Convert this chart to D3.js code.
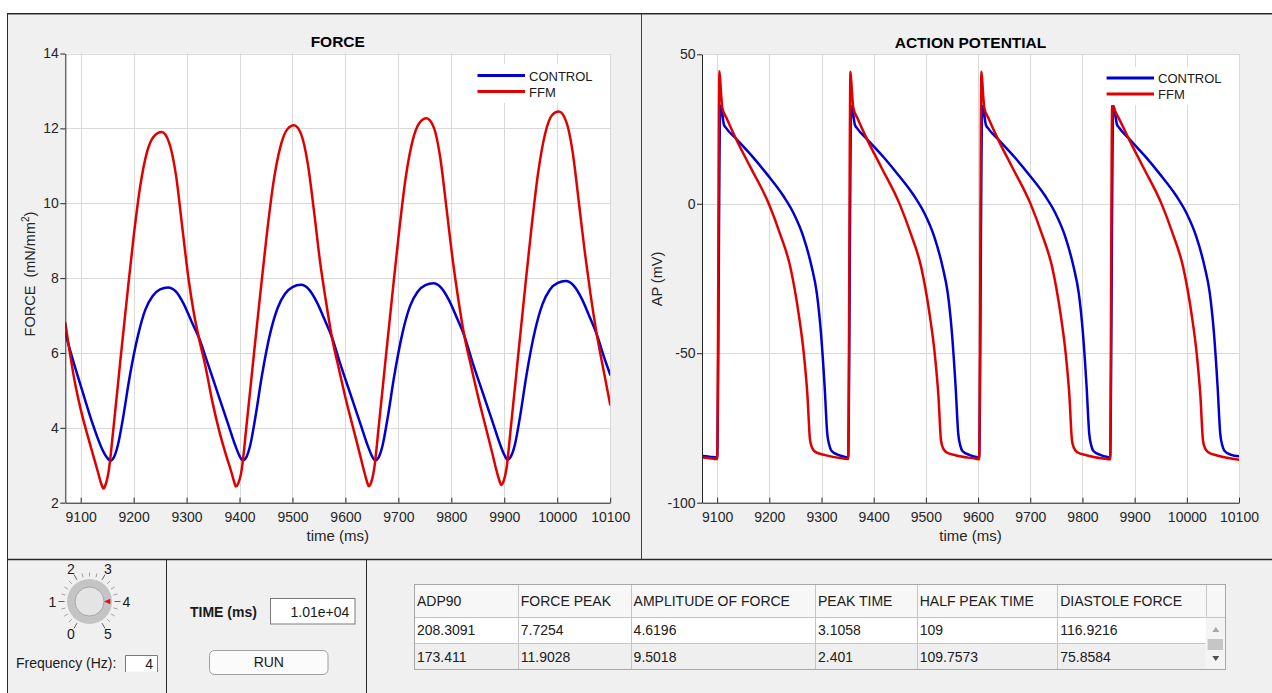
<!DOCTYPE html>
<html><head><meta charset="utf-8">
<script src="https://cdn.jsdelivr.net/npm/d3@7"></script>
<style>
html,body{margin:0;padding:0;background:#fff;}
svg{display:block;}
</style></head><body>
<svg id="app" width="1272" height="693"></svg>
<script>
// ---------------- DATA ----------------
const timeDomain = [9071, 10100];
const timeTicks = [9100, 9200, 9300, 9400, 9500, 9600, 9700, 9800, 9900, 10000, 10100];
const forceTicks = [2, 4, 6, 8, 10, 12, 14];
const apTicks = [-100, -50, 0, 50];
const seriesNames = ["CONTROL", "FFM"];
const seriesColors = ["#0000d2", "#e00000"];

// FORCE (mN/mm2) vs time (ms)
const forceControl = [[9071,6.52],[9086,5.78],[9105,4.90],[9124,4.05],[9140,3.45],[9149,3.22],[9156,3.12],[9163,3.22],[9170,3.52],[9180,4.26],[9192,5.32],[9208,6.45],[9222,7.15],[9236,7.52],[9250,7.70],[9265,7.75],[9280,7.64],[9295,7.30],[9310,6.82],[9323,6.42],[9340,5.72],[9359,4.92],[9378,4.12],[9393,3.49],[9400,3.25],[9406,3.13],[9413,3.22],[9420,3.52],[9430,4.29],[9442,5.37],[9458,6.53],[9472,7.20],[9486,7.58],[9500,7.76],[9516,7.82],[9531,7.70],[9546,7.36],[9561,6.88],[9574,6.44],[9590,5.72],[9609,4.92],[9628,4.12],[9643,3.49],[9650,3.25],[9656,3.13],[9663,3.22],[9670,3.52],[9680,4.29],[9692,5.37],[9708,6.55],[9722,7.25],[9736,7.63],[9751,7.81],[9766,7.86],[9781,7.74],[9796,7.40],[9811,6.92],[9824,6.48],[9840,5.75],[9859,4.95],[9878,4.15],[9893,3.52],[9900,3.28],[9906,3.15],[9913,3.25],[9920,3.55],[9930,4.32],[9942,5.42],[9958,6.60],[9972,7.30],[9986,7.69],[10001,7.87],[10016,7.92],[10031,7.80],[10046,7.46],[10061,6.97],[10074,6.52],[10090,5.82],[10100,5.42]];
const forceFFM = [[9071,6.80],[9078,6.15],[9088,5.30],[9100,4.50],[9112,3.85],[9124,3.25],[9133,2.80],[9139,2.50],[9143,2.38],[9147,2.48],[9153,2.85],[9162,4.00],[9175,5.80],[9188,7.55],[9200,9.10],[9213,10.50],[9225,11.35],[9238,11.78],[9253,11.90],[9267,11.62],[9280,10.75],[9292,9.35],[9304,7.95],[9314,7.05],[9323,6.42],[9336,5.62],[9349,4.68],[9362,3.90],[9375,3.25],[9385,2.80],[9390,2.55],[9393,2.43],[9397,2.50],[9404,2.87],[9413,4.03],[9426,5.81],[9439,7.55],[9451,9.10],[9464,10.55],[9477,11.50],[9490,11.97],[9503,12.08],[9517,11.82],[9529,11.05],[9541,9.75],[9552,8.45],[9563,7.40],[9574,6.46],[9588,5.55],[9601,4.75],[9614,4.03],[9627,3.31],[9636,2.80],[9641,2.55],[9644,2.44],[9648,2.52],[9654,2.88],[9663,4.05],[9676,5.85],[9689,7.62],[9701,9.20],[9714,10.70],[9727,11.68],[9740,12.15],[9753,12.27],[9767,12.02],[9779,11.22],[9791,9.85],[9802,8.55],[9813,7.45],[9824,6.50],[9838,5.60],[9851,4.80],[9864,4.07],[9877,3.34],[9886,2.82],[9891,2.58],[9894,2.47],[9898,2.55],[9904,2.90],[9913,4.10],[9926,5.90],[9939,7.70],[9951,9.30],[9964,10.82],[9977,11.85],[9990,12.35],[10003,12.45],[10017,12.18],[10029,11.38],[10041,10.00],[10052,8.70],[10063,7.55],[10074,6.55],[10088,5.50],[10100,4.62]];

// ACTION POTENTIAL (mV) vs time (ms)
const apControl = [[9071,-84.4],[9085,-84.6],
 [9100,-84.9],[9106,32.8],[9109,31.0],[9113,26.5],[9117,25.4],[9137,21.6],[9169,15.5],[9195,10.0],[9227,2.6],[9246,-3.0],[9265,-10.9],[9281,-21.0],[9291,-29.9],[9299,-43.3],[9306,-61.2],[9311,-76.8],[9315,-80.8],[9319,-82.6],[9332,-84.0],[9348,-84.8],
 [9351,-84.9],[9357,32.6],[9360,30.8],[9364,26.4],[9368,25.3],[9388,21.5],[9420,15.4],[9446,9.9],[9478,2.5],[9497,-3.1],[9516,-11.0],[9532,-21.1],[9542,-30.0],[9550,-43.4],[9557,-61.3],[9562,-76.9],[9566,-80.9],[9570,-82.7],[9583,-84.0],[9599,-84.8],
 [9602,-84.9],[9608,32.6],[9611,30.8],[9615,26.4],[9619,25.3],[9639,21.5],[9671,15.4],[9697,9.9],[9729,2.5],[9748,-3.1],[9767,-11.0],[9783,-21.1],[9793,-30.0],[9801,-43.4],[9808,-61.3],[9813,-76.9],[9817,-80.9],[9821,-82.7],[9834,-84.0],[9850,-84.8],
 [9853,-84.9],[9859,32.8],[9862,31.0],[9866,26.6],[9870,25.5],[9890,21.6],[9922,15.5],[9948,10.0],[9980,2.6],[9999,-3.0],[10018,-10.9],[10034,-21.0],[10044,-29.9],[10052,-43.3],[10059,-61.2],[10064,-76.8],[10068,-80.8],[10072,-82.6],[10085,-84.0],[10100,-84.5]];
const apFFM = [[9071,-84.9],[9085,-85.1],
 [9100,-85.4],[9104.5,44.3],[9107.5,37.0],[9110,32.0],[9118,28.7],[9137,21.4],[9163,12.5],[9199,0.0],[9220,-9.8],[9240,-21.0],[9256,-36.6],[9266,-50.0],[9273,-64.0],[9278,-79.0],[9282,-81.6],[9288,-83.0],[9307,-84.1],[9345,-85.3],
 [9351,-85.4],[9355.5,44.2],[9358.5,37.0],[9361,32.0],[9369,28.6],[9388,21.3],[9414,12.4],[9450,-0.2],[9471,-10.0],[9491,-21.2],[9507,-36.8],[9517,-50.2],[9524,-64.2],[9529,-79.2],[9533,-81.8],[9539,-83.1],[9558,-84.2],[9596,-85.3],
 [9602,-85.5],[9606.5,44.2],[9609.5,37.0],[9612,32.0],[9620,28.6],[9639,21.3],[9665,12.4],[9701,-0.2],[9722,-10.0],[9742,-21.2],[9758,-36.8],[9768,-50.2],[9775,-64.2],[9780,-79.2],[9784,-81.8],[9790,-83.1],[9809,-84.2],[9847,-85.4],
 [9853,-85.5],[9857,33.0],[9862,31.2],[9870,28.5],[9890,21.3],[9916,12.4],[9952,-0.2],[9973,-10.0],[9993,-21.2],[10009,-36.8],[10019,-50.2],[10026,-64.2],[10031,-79.2],[10035,-81.8],[10041,-83.1],[10060,-84.3],[10100,-85.6]];

// Controls
const knobTicks = [0, 1, 2, 3, 4, 5];
const knobValue = 4;
const frequencyValue = "4";
const timeValue = "1.01e+04";
const tableHeaders = ["ADP90", "FORCE PEAK", "AMPLITUDE OF FORCE", "PEAK TIME", "HALF PEAK TIME", "DIASTOLE FORCE"];
const tableRowControl = ["208.3091", "7.7254", "4.6196", "3.1058", "109", "116.9216"];
const tableRowFFM = ["173.411", "11.9028", "9.5018", "2.401", "109.7573", "75.8584"];

// ---------------- DRAW ----------------
const FONT = "'Liberation Sans', Arial, Helvetica, sans-serif";
const svg = d3.select("#app").attr("font-family", FONT);

svg.append("rect").attr("width", 1272).attr("height", 693).attr("fill", "#ffffff");
svg.append("rect").attr("x", 7).attr("y", 13).attr("width", 1265).attr("height", 680).attr("fill", "#f0f0f0");

function drawChart(o) {
  const x = d3.scaleLinear().domain(timeDomain).range([o.left, o.right]);
  const y = d3.scaleLinear().domain(o.yDomain).range([o.bottom, o.top]);
  const g = svg.append("g");
  g.append("rect").attr("x", o.left).attr("y", o.top)
    .attr("width", o.right - o.left).attr("height", o.bottom - o.top).attr("fill", "#ffffff");
  // grid
  g.append("g").selectAll("line").data(timeTicks).join("line")
    .attr("x1", d => Math.round(x(d)) + 0.5).attr("x2", d => Math.round(x(d)) + 0.5)
    .attr("y1", o.top).attr("y2", o.bottom).attr("stroke", "#d9d9d9").attr("stroke-width", 1);
  g.append("g").selectAll("line").data(o.yTicks).join("line")
    .attr("y1", d => Math.round(y(d)) + 0.5).attr("y2", d => Math.round(y(d)) + 0.5)
    .attr("x1", o.left).attr("x2", o.right).attr("stroke", "#d9d9d9").attr("stroke-width", 1);
  // curves
  const clipId = o.id + "-clip";
  g.append("clipPath").attr("id", clipId).append("rect")
    .attr("x", o.left).attr("y", o.top - 2).attr("width", o.right - o.left).attr("height", o.bottom - o.top + 2);
  const line = d3.line().x(d => x(d[0])).y(d => y(d[1])).curve(d3.curveMonotoneX);
  o.series.forEach((s, i) => {
    g.append("path").attr("d", line(s)).attr("fill", "none")
      .attr("stroke", seriesColors[i]).attr("stroke-width", 2.5)
      .attr("stroke-linejoin", "round").attr("stroke-linecap", "round")
      .attr("clip-path", `url(#${clipId})`);
  });
  // axes
  const xa = g.append("g").attr("transform", `translate(0,${o.bottom})`)
    .call(d3.axisBottom(x).tickValues(timeTicks).tickFormat(d => String(d))
      .tickSizeInner(-5).tickSizeOuter(0).tickPadding(9.5));
  const ya = g.append("g").attr("transform", `translate(${o.left},0)`)
    .call(d3.axisLeft(y).tickValues(o.yTicks).tickFormat(d => String(d))
      .tickSizeInner(5).tickSizeOuter(0).tickPadding(1.5));
  [xa, ya].forEach(a => {
    a.attr("font-family", FONT).attr("font-size", 14);
    a.selectAll("path,line").attr("stroke", "#262626");
    a.selectAll("text").attr("fill", "#262626");
  });
  // legend
  const lg = g.append("g");
  lg.append("rect").attr("x", o.legend.x).attr("y", o.legend.y)
    .attr("width", o.legend.w).attr("height", o.legend.h).attr("fill", "#ffffff");
  seriesNames.forEach((n, i) => {
    const ly = o.legend.rows[i];
    lg.append("line").attr("x1", o.legend.lx1).attr("x2", o.legend.lx2)
      .attr("y1", ly).attr("y2", ly).attr("stroke", seriesColors[i]).attr("stroke-width", 3);
    lg.append("text").attr("x", o.legend.tx).attr("y", ly + 5).attr("font-size", 13)
      .attr("fill", "#1a1a1a").text(n);
  });
  // title
  g.append("text").attr("x", (o.left + o.right) / 2).attr("y", o.titleY)
    .attr("text-anchor", "middle").attr("font-weight", "bold").attr("font-size", 15.5)
    .attr("fill", "#000").text(o.title);
  // x label
  g.append("text").attr("x", (o.left + o.right) / 2).attr("y", 541)
    .attr("text-anchor", "middle").attr("font-size", 15).attr("fill", "#262626").text("time (ms)");
  // y label
  const yl = g.append("text").attr("transform", `translate(${o.ylabX},${o.ylabY}) rotate(-90)`)
    .attr("text-anchor", "middle").attr("font-size", 14.5).attr("fill", "#262626");
  o.ylabel(yl);
}

drawChart({
  id: "force", left: 65.3, right: 610.2, top: 53.5, bottom: 502.7,
  yDomain: [2, 14], yTicks: forceTicks, series: [forceControl, forceFFM],
  title: "FORCE", titleY: 46.8, ylabX: 34.5, ylabY: 274,
  legend: { x: 470, y: 64, w: 131, h: 39, lx1: 477.5, lx2: 525, tx: 529, rows: [75.5, 91.5] },
  ylabel: t => {
    t.append("tspan").text("FORCE\u00a0\u00a0(mN/mm");
    t.append("tspan").attr("font-size", 10).attr("dy", -6).text("2");
    t.append("tspan").attr("dy", 6).text(")");
  }
});
drawChart({
  id: "ap", left: 702, right: 1239, top: 54.3, bottom: 502.7,
  yDomain: [-100, 50], yTicks: apTicks, series: [apControl, apFFM],
  title: "ACTION POTENTIAL", titleY: 48, ylabX: 661.5, ylabY: 279,
  legend: { x: 1099, y: 67, w: 133, h: 38, lx1: 1106.6, lx2: 1154, tx: 1158, rows: [78, 94] },
  ylabel: t => { t.text("AP (mV)"); }
});

// ---------------- Panel borders ----------------
const borders = svg.append("g").attr("stroke", "#2a2a2a").attr("fill", "none");
borders.append("line").attr("x1", 7).attr("x2", 1272).attr("y1", 13.75).attr("y2", 13.75).attr("stroke-width", 1.5);
borders.append("line").attr("x1", 7.5).attr("x2", 7.5).attr("y1", 13).attr("y2", 693).attr("stroke-width", 1);
borders.append("line").attr("x1", 641.5).attr("x2", 641.5).attr("y1", 14).attr("y2", 559).attr("stroke-width", 1).attr("stroke", "#444");
borders.append("line").attr("x1", 7).attr("x2", 1272).attr("y1", 559.5).attr("y2", 559.5).attr("stroke-width", 1.5);
borders.append("line").attr("x1", 166.5).attr("x2", 166.5).attr("y1", 560).attr("y2", 693).attr("stroke-width", 1);
borders.append("line").attr("x1", 366.5).attr("x2", 366.5).attr("y1", 560).attr("y2", 693).attr("stroke-width", 1);

// ---------------- Knob ----------------
const kcx = 89.5, kcy = 601.5;
const angle = d3.scaleLinear().domain([0, 5]).range([240, -60]);
const pt = (v, r) => { const a = angle(v) * Math.PI / 180; return [kcx + r * Math.cos(a), kcy - r * Math.sin(a)]; };
const kg = svg.append("g");
const minor = d3.range(0, 5.0001, 0.25);
kg.selectAll("line.tk").data(minor).join("line")
  .attr("x1", d => pt(d, 25)[0]).attr("y1", d => pt(d, 25)[1])
  .attr("x2", d => pt(d, Number.isInteger(d) ? 31 : 29)[0]).attr("y2", d => pt(d, Number.isInteger(d) ? 31 : 29)[1])
  .attr("stroke", d => Number.isInteger(d) ? "#606060" : "#a0a0a0").attr("stroke-width", 1);
kg.append("circle").attr("cx", kcx).attr("cy", kcy).attr("r", 22.5).attr("fill", "#c4c4c4");
kg.append("circle").attr("cx", kcx).attr("cy", kcy).attr("r", 14.5).attr("fill", "#e4e4e4").attr("stroke", "#a6a6a6").attr("stroke-width", 1);
{
  const tip = pt(knobValue, 14.5), b1 = pt(knobValue + 0.12, 21), b2 = pt(knobValue - 0.12, 21);
  kg.append("path").attr("d", `M${tip[0]},${tip[1]}L${b1[0]},${b1[1]}L${b2[0]},${b2[1]}Z`).attr("fill", "#e01010");
}
kg.selectAll("text").data(knobTicks).join("text")
  .attr("x", d => pt(d, 37)[0]).attr("y", d => pt(d, 37)[1] + 5)
  .attr("text-anchor", "middle").attr("font-size", 14).attr("fill", "#1a1a1a").text(d => d);

svg.append("text").attr("x", 16).attr("y", 667.5).attr("font-size", 14).attr("fill", "#1a1a1a").text("Frequency (Hz):");
svg.append("rect").attr("x", 125.5).attr("y", 655.5).attr("width", 32).attr("height", 16).attr("fill", "#ffffff");
svg.append("path").attr("d", "M125.5,672V655.5H157.5V672").attr("fill", "none").attr("stroke", "#7a7a7a");
svg.append("text").attr("x", 153).attr("y", 668.5).attr("text-anchor", "end").attr("font-size", 14).attr("fill", "#1a1a1a").text(frequencyValue);

// ---------------- TIME / RUN ----------------
svg.append("text").attr("x", 190).attr("y", 616.5).attr("font-size", 14).attr("font-weight", "bold").attr("fill", "#1a1a1a").text("TIME (ms)");
svg.append("rect").attr("x", 270.5).attr("y", 598.5).attr("width", 84.5).attr("height", 25.5).attr("fill", "#ffffff").attr("stroke", "#7a7a7a");
svg.append("text").attr("x", 349.3).attr("y", 616.5).attr("text-anchor", "end").attr("font-size", 14).attr("fill", "#1a1a1a").text(timeValue);
svg.append("rect").attr("x", 209.5).attr("y", 650.5).attr("width", 118.5).attr("height", 24).attr("rx", 5)
  .attr("fill", "#fbfbfb").attr("stroke", "#a0a0a0");
svg.append("text").attr("x", 268.8).attr("y", 667).attr("text-anchor", "middle").attr("font-size", 14).attr("fill", "#1a1a1a").text("RUN");

// ---------------- TABLE ----------------
const colX = [414, 517.8, 630.6, 815, 916.7, 1057.2, 1205.6, 1226];
const rowY = [584, 616.7, 643.3, 670];
const rows = [tableHeaders, tableRowControl, tableRowFFM];
const rowFill = ["#f7f7f7", "#ffffff", "#efefef"];
const tg = svg.append("g");
rows.forEach((r, i) => {
  tg.append("rect").attr("x", colX[0]).attr("y", rowY[i]).attr("width", colX[7] - colX[0])
    .attr("height", rowY[i + 1] - rowY[i]).attr("fill", rowFill[i]);
});
tg.append("rect").attr("x", colX[6]).attr("y", rowY[1]).attr("width", colX[7] - colX[6])
  .attr("height", rowY[3] - rowY[1]).attr("fill", "#f4f4f4");
tg.selectAll("line.v").data(colX.slice(1, 7)).join("line")
  .attr("x1", d => Math.round(d) + 0.5).attr("x2", d => Math.round(d) + 0.5)
  .attr("y1", d => rowY[0]).attr("y2", (d, i) => i === 5 ? rowY[1] : rowY[3]).attr("stroke", "#c4c4c4");
tg.selectAll("line.h").data(rowY.slice(1, 3)).join("line")
  .attr("y1", d => Math.round(d) + 0.5).attr("y2", d => Math.round(d) + 0.5)
  .attr("x1", colX[0]).attr("x2", colX[6]).attr("stroke", "#c4c4c4");
tg.append("line").attr("x1", colX[6]).attr("x2", colX[7]).attr("y1", Math.round(rowY[1]) + 0.5).attr("y2", Math.round(rowY[1]) + 0.5).attr("stroke", "#c4c4c4");
tg.append("rect").attr("x", colX[0] + 0.5).attr("y", rowY[0] + 0.5).attr("width", colX[7] - colX[0] - 1)
  .attr("height", rowY[3] - rowY[0] - 1).attr("fill", "none").attr("stroke", "#a8a8a8");
const baseY = [605.7, 635, 661.5];
rows.forEach((r, i) => {
  r.forEach((c, j) => {
    tg.append("text").attr("x", colX[j] + 3).attr("y", baseY[i]).attr("font-size", 14)
      .attr("fill", "#202020").text(c);
  });
});
// scrollbar
const sx = (colX[6] + colX[7]) / 2;
tg.append("path").attr("d", `M${sx - 3.5},${632}L${sx + 3.5},${632}L${sx},${627}Z`).attr("fill", "#a8a8a8");
tg.append("rect").attr("x", colX[6] + 2).attr("y", 639).attr("width", colX[7] - colX[6] - 5).attr("height", 11).attr("fill", "#c6c6c6");
tg.append("path").attr("d", `M${sx - 3.5},${656}L${sx + 3.5},${656}L${sx},${661}Z`).attr("fill", "#505050");
</script>
</body></html>
